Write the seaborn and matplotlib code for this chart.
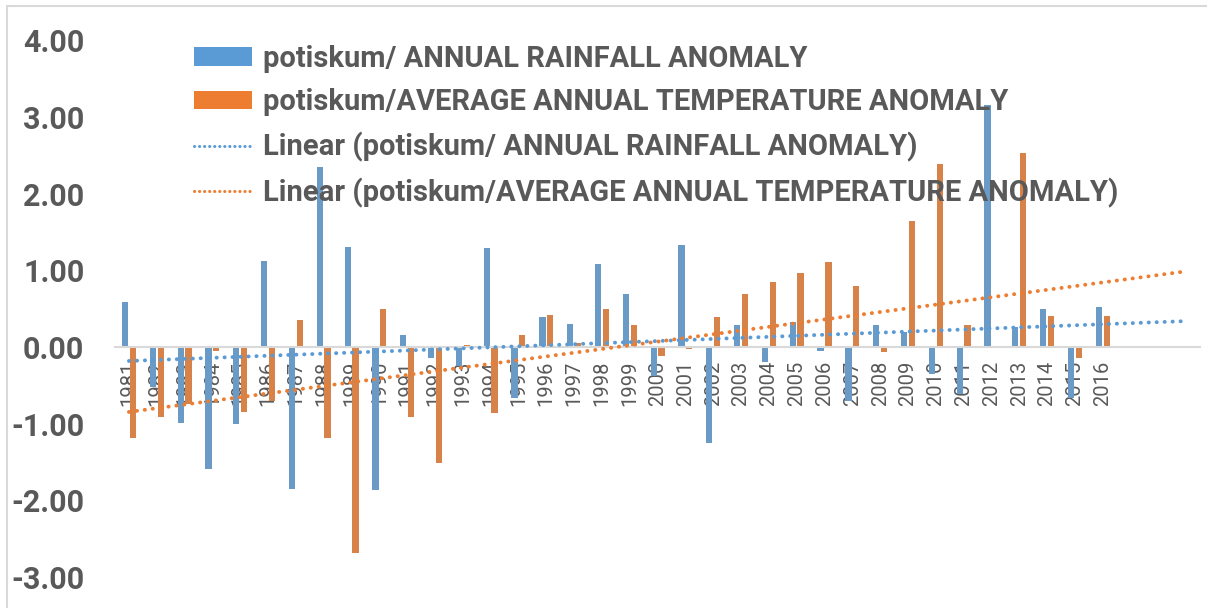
import numpy as np
import pandas as pd
import matplotlib
matplotlib.use("Agg")
import matplotlib.pyplot as plt
import seaborn as sns
from matplotlib.lines import Line2D
from matplotlib.patches import Patch

years = [str(y) for y in range(1981, 2017)]
extra_slots = ["2017", "2018", "2019"]  # empty (zero) category slots on the axis
extra_values = [0.0, 0.0, 0.0]
rainfall = [0.58, -0.52, -0.99, -1.59, -1.01, 1.12, -1.85, 2.35, 1.30, -1.86,
            0.15, -0.15, -0.25, 1.29, -0.67, 0.39, 0.30, 1.08, 0.69, -0.38,
            1.33, -1.25, 0.29, -0.20, 0.32, -0.05, -0.70, 0.29, 0.19, -0.35,
            -0.62, 3.15, 0.26, 0.49, -0.66, 0.52]
temperature = [-1.19, -0.92, -0.75, -0.05, -0.85, -0.70, 0.35, -1.19, -2.69, 0.49,
               -0.92, -1.52, 0.02, -0.86, 0.16, 0.42, 0.05, 0.49, 0.29, -0.12,
               -0.03, 0.39, 0.69, 0.84, 0.96, 1.11, 0.79, -0.07, 1.64, 2.39,
               0.29, 0.00, 2.53, 0.40, -0.15, 0.40]
s_rain = "potiskum/ ANNUAL RAINFALL ANOMALY"
s_temp = "potiskum/AVERAGE ANNUAL TEMPERATURE ANOMALY"
yticks = [-3, -2, -1, 0, 1, 2, 3, 4]

BLUE = "#5B9BD5"
ORANGE = "#ED7D31"
GRAY = "#595959"

sns.set_style("white")
plt.rcParams["font.family"] = ["Roboto", "DejaVu Sans"]

df = pd.DataFrame({
    "year": years * 2,
    "value": rainfall + temperature,
    "series": [s_rain] * len(years) + [s_temp] * len(years),
})

fig = plt.figure(figsize=(12.07, 6.08), dpi=100)
ax = fig.add_axes([0.0953, 0.051, 0.899, 0.883])

sns.barplot(data=df, x="year", y="value", hue="series", order=years,
            hue_order=[s_rain, s_temp], palette=[BLUE, ORANGE],
            width=0.56, gap=0.2, errorbar=None, ax=ax, legend=False,
            linewidth=0)

# spine first (moving it resets tick styling)
for s in ["top", "right", "left"]:
    ax.spines[s].set_visible(False)
ax.spines["bottom"].set_position(("data", 0))
ax.spines["bottom"].set_color("#D9D9D9")
ax.spines["bottom"].set_linewidth(1.5)
ax.spines["bottom"].set_zorder(1)

# linear trend lines over all 39 slots (extra slots count as zero)
n_all = len(years) + len(extra_slots)
x_all = np.arange(1, n_all + 1)
for vals, col in [(rainfall, BLUE), (temperature, ORANGE)]:
    k, b = np.polyfit(x_all, list(vals) + extra_values, 1)
    ax.plot(x_all - 1, k * x_all + b, color=col, lw=2.8,
            linestyle=(0, (0.05, 2.0)), dash_capstyle="round", zorder=3)

ax.set_xlim(-0.5, n_all - 0.5)
ax.set_ylim(-3, 4)
ax.set_yticks(yticks)
ax.set_yticklabels([f"{v:.2f}" for v in yticks], fontsize=22, fontweight="bold",
                   color=GRAY)
ax.set_xticks(range(len(years)))
ax.set_xticklabels(years, rotation=90, fontsize=14.5, color=GRAY, va="top",
                   ha="center")
ax.tick_params(axis="x", length=0, pad=10)
ax.tick_params(axis="y", length=0, pad=22)
ax.set_xlabel("")
ax.set_ylabel("")

handles = [
    Patch(facecolor=BLUE, edgecolor="none"),
    Patch(facecolor=ORANGE, edgecolor="none"),
    Line2D([], [], color=BLUE, lw=2.2, linestyle=(0, (0.05, 1.6)),
           dash_capstyle="round"),
    Line2D([], [], color=ORANGE, lw=2.2, linestyle=(0, (0.05, 1.6)),
           dash_capstyle="round"),
]
labels = [s_rain, s_temp, f"Linear ({s_rain})", f"Linear ({s_temp})"]
leg = fig.legend(handles, labels, loc="upper left",
                 bbox_to_anchor=(194 / 1207, 1 - 45 / 608),
                 frameon=False, borderaxespad=0, borderpad=0,
                 handlelength=2.0, handleheight=0.6, handletextpad=0.35,
                 labelspacing=0.53,
                 prop={"family": "Roboto", "weight": "bold", "size": 21})
for t in leg.get_texts():
    t.set_color(GRAY)

# thin light frame lines at the image top/left
fig.add_artist(Line2D([7 / 1207, 1], [1 - 6 / 608, 1 - 6 / 608],
                      transform=fig.transFigure, color="#D9D9D9", lw=1.5))
fig.add_artist(Line2D([7 / 1207, 7 / 1207], [0, 1 - 6 / 608],
                      transform=fig.transFigure, color="#D9D9D9", lw=1.5))

fig.savefig("out.png", dpi=100)
